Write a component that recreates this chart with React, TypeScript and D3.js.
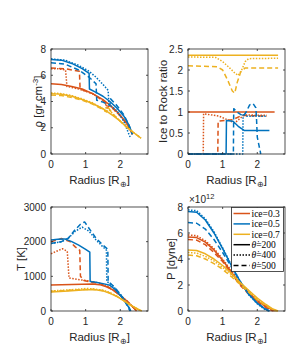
import React from "react";
import * as d3 from "d3";

type Pt = [number, number];

const radiusDomain: [number, number] = [0, 2.8];
const radiusTicks = [0, 1, 2];
const rhoTicks = [0, 2, 4, 6, 8];
const ratioTicks = [0, 0.5, 1, 1.5, 2, 2.5];
const tempTicks = [0, 1000, 2000, 3000];
const presTicks = [0, 2, 4, 6, 8];

const iceLabels = ["ice=0.3", "ice=0.5", "ice=0.7"];
const thetaLabels = ["200", "400", "500"];
const iceColors = ["#D95319", "#0072BD", "#EDB120"];
const dashStyles = ["none", "1.5 1.5", "5 3"];

// density [gr cm^-3]
const rho_o_200: Pt[] = [[0, 5.35], [0.3, 5.3], [0.6, 5.15], [0.9, 4.95], [1.2, 4.6], [1.5, 4.15], [1.8, 3.5], [2.0, 2.95], [2.2, 2.3], [2.35, 1.5]];
const rho_o_400: Pt[] = [[0, 6.5], [0.2, 6.5], [0.42, 6.4], [0.46, 5.15], [0.8, 4.95], [1.2, 4.6], [1.55, 4.0], [1.6, 3.6], [1.66, 3.8], [2.0, 2.9], [2.2, 2.25], [2.35, 1.6]];
const rho_o_500: Pt[] = [[0, 6.55], [0.4, 6.5], [0.82, 6.3], [0.84, 4.95], [1.2, 4.6], [1.58, 3.9], [1.62, 3.5], [1.7, 3.7], [2.0, 2.9], [2.2, 2.25], [2.35, 1.5]];
const rho_b_200: Pt[] = [[0, 7.2], [0.3, 7.15], [0.6, 6.9], [0.9, 6.5], [1.1, 6.15], [1.11, 4.95], [1.3, 4.7], [1.5, 4.4], [1.7, 4.0], [1.9, 3.5], [2.1, 2.9], [2.25, 2.2], [2.35, 1.5]];
const rho_b_400: Pt[] = [[0, 7.25], [0.4, 7.15], [0.8, 6.75], [1.1, 6.3], [1.3, 5.85], [1.5, 5.3], [1.65, 4.85], [1.67, 3.8], [1.9, 3.3], [2.1, 2.5], [2.25, 1.5], [2.3, 1.2]];
const rho_b_500: Pt[] = [[0, 6.95], [0.4, 6.85], [0.8, 6.4], [1.1, 5.85], [1.3, 5.35], [1.32, 4.1], [1.5, 3.95], [1.7, 3.7], [1.72, 4.2], [1.9, 3.7], [2.1, 3.0], [2.25, 2.2], [2.35, 1.5]];
const rho_y_200: Pt[] = [[0, 4.6], [0.3, 4.55], [0.6, 4.4], [0.9, 4.15], [1.2, 3.85], [1.5, 3.45], [1.8, 2.9], [2.0, 2.5], [2.2, 2.0], [2.4, 1.6], [2.6, 1.2]];
const rho_y_400: Pt[] = [[0, 4.65], [0.3, 4.6], [0.6, 4.45], [0.9, 4.2], [1.2, 3.9], [1.5, 3.45], [1.55, 3.3], [1.6, 3.6], [1.8, 3.0], [2.0, 2.5], [2.2, 2.05], [2.4, 1.6], [2.6, 1.2]];
const rho_y_500: Pt[] = [[0, 4.5], [0.3, 4.45], [0.6, 4.3], [0.9, 4.1], [1.2, 3.8], [1.5, 3.4], [1.6, 3.2], [1.65, 3.55], [1.8, 3.0], [2.0, 2.5], [2.2, 2.0], [2.4, 1.6], [2.55, 1.3]];

// ice to rock ratio
const ratio_o_200: Pt[] = [[0, 1.0], [2.5, 1.0]];
const ratio_o_400: Pt[] = [[0, 0], [0.44, 0], [0.45, 0.96], [0.9, 0.9], [1.35, 0.74], [1.62, 0.93], [2.28, 0.92]];
const ratio_o_500: Pt[] = [[0, 0], [0.86, 0], [0.87, 0.78], [1.3, 0.82], [1.55, 0.92], [2.28, 0.9]];
const ratio_b_200: Pt[] = [[0, 0], [1.1, 0], [1.11, 0.8], [1.3, 0.78], [1.45, 0.66], [1.62, 0.56], [2.35, 0.56]];
const ratio_b_400: Pt[] = [[0, 0], [1.58, 0], [1.59, 0.96], [1.7, 0.9], [2.28, 0.9]];
const ratio_b_500: Pt[] = [[0, 0], [1.31, 0], [1.32, 1.08], [1.45, 0.98], [1.6, 0.9], [1.68, 1.0], [1.78, 1.17], [1.88, 1.2], [1.96, 1.1], [1.98, 0.8], [2.0, 0.4], [2.1, 0]];
const ratio_y_200: Pt[] = [[0, 2.35], [2.6, 2.35]];
const ratio_y_400: Pt[] = [[0, 2.31], [0.8, 2.3], [1.0, 2.2], [1.2, 2.05], [1.35, 1.93], [1.45, 1.87], [1.55, 2.0], [1.65, 2.2], [1.75, 2.27], [2.6, 2.28]];
const ratio_y_500: Pt[] = [[0, 2.1], [0.85, 2.08], [1.0, 2.0], [1.15, 1.75], [1.28, 1.5], [1.35, 1.45], [1.42, 1.7], [1.52, 1.95], [1.65, 2.05], [2.6, 2.05]];

// temperature [K]
const temp_o_200: Pt[] = [[0, 750], [0.3, 755], [0.6, 765], [0.9, 775], [1.2, 780], [1.4, 760], [1.6, 700], [1.8, 600], [2.0, 450], [2.2, 280], [2.35, 130], [2.47, 0]];
const temp_o_400: Pt[] = [[0, 1650], [0.15, 1720], [0.33, 1795], [0.47, 1720], [0.52, 950], [0.84, 900], [1.0, 880], [1.2, 850], [1.4, 800], [1.6, 720], [1.8, 600], [2.0, 450], [2.2, 280], [2.35, 130], [2.47, 0]];
const temp_o_500: Pt[] = [[0, 2000], [0.3, 2090], [0.55, 2000], [0.7, 1850], [0.83, 1750], [0.85, 1000], [0.95, 880], [1.2, 820], [1.4, 790], [1.6, 720], [1.8, 600], [2.0, 450], [2.2, 280], [2.4, 80], [2.47, 0]];
const temp_b_200: Pt[] = [[0, 2050], [0.2, 2070], [0.4, 2080], [0.6, 2000], [0.8, 1900], [1.0, 1780], [1.12, 1700], [1.13, 850], [1.3, 830], [1.5, 790], [1.7, 740], [1.85, 620], [2.0, 450], [2.15, 250], [2.28, 50], [2.3, 0]];
const temp_b_400: Pt[] = [[0, 1950], [0.3, 2000], [0.5, 2100], [0.7, 2300], [0.9, 2420], [1.1, 2300], [1.3, 2050], [1.5, 1850], [1.6, 1750], [1.61, 850], [1.75, 760], [1.9, 600], [2.05, 420], [2.2, 200], [2.3, 0]];
const temp_b_500: Pt[] = [[0, 1950], [0.3, 2000], [0.5, 2100], [0.7, 2350], [0.85, 2500], [0.97, 2570], [1.1, 2380], [1.3, 2100], [1.5, 1900], [1.64, 1780], [1.65, 850], [1.8, 720], [1.95, 550], [2.1, 350], [2.2, 150], [2.28, 0]];
const temp_y_200: Pt[] = [[0, 550], [0.5, 580], [1.0, 610], [1.3, 610], [1.5, 580], [1.7, 510], [1.9, 420], [2.1, 300], [2.3, 170], [2.5, 60], [2.62, 0]];
const temp_y_400: Pt[] = [[0, 580], [0.4, 600], [0.8, 630], [1.0, 650], [1.2, 640], [1.5, 600], [1.7, 530], [1.9, 430], [2.1, 300], [2.3, 170], [2.5, 60], [2.6, 0]];
const temp_y_500: Pt[] = [[0, 565], [0.4, 590], [0.8, 615], [1.2, 625], [1.5, 590], [1.7, 520], [1.9, 420], [2.1, 300], [2.3, 160], [2.5, 50], [2.58, 0]];

// pressure [1e12 dyne]
const pres_o_200: Pt[] = [[0, 5.7], [0.25, 5.65], [0.5, 5.3], [0.75, 4.7], [1.0, 3.9], [1.25, 3.0], [1.5, 2.1], [1.75, 1.4], [2.0, 0.8], [2.25, 0.35], [2.45, 0.05], [2.5, 0]];
const pres_o_400: Pt[] = [[0, 5.85], [0.25, 5.8], [0.5, 5.4], [0.75, 4.8], [1.0, 4.0], [1.25, 3.1], [1.5, 2.2], [1.75, 1.4], [2.0, 0.8], [2.25, 0.3], [2.45, 0]];
const pres_o_500: Pt[] = [[0, 5.5], [0.25, 5.45], [0.5, 5.1], [0.75, 4.5], [1.0, 3.8], [1.25, 2.9], [1.5, 2.0], [1.75, 1.3], [2.0, 0.7], [2.25, 0.25], [2.45, 0]];
const pres_b_200: Pt[] = [[0, 7.65], [0.25, 7.6], [0.5, 7.0], [0.75, 6.0], [1.0, 4.8], [1.25, 3.5], [1.5, 2.3], [1.75, 1.3], [2.0, 0.6], [2.2, 0.2], [2.35, 0]];
const pres_b_400: Pt[] = [[0, 7.78], [0.25, 7.72], [0.5, 7.1], [0.75, 6.1], [1.0, 4.85], [1.25, 3.55], [1.5, 2.3], [1.75, 1.25], [2.0, 0.55], [2.2, 0.15], [2.33, 0]];
const pres_b_500: Pt[] = [[0, 6.8], [0.25, 6.75], [0.5, 6.3], [0.75, 5.5], [1.0, 4.5], [1.25, 3.4], [1.5, 2.3], [1.75, 1.3], [2.0, 0.6], [2.2, 0.2], [2.35, 0]];
const pres_y_200: Pt[] = [[0, 4.7], [0.25, 4.65], [0.5, 4.4], [0.75, 4.0], [1.0, 3.5], [1.25, 2.9], [1.5, 2.2], [1.75, 1.6], [2.0, 1.0], [2.25, 0.5], [2.45, 0.15], [2.6, 0]];
const pres_y_400: Pt[] = [[0, 4.5], [0.25, 4.45], [0.5, 4.2], [0.75, 3.85], [1.0, 3.35], [1.25, 2.8], [1.5, 2.15], [1.75, 1.55], [2.0, 0.95], [2.25, 0.45], [2.45, 0.12], [2.58, 0]];
const pres_y_500: Pt[] = [[0, 4.3], [0.25, 4.25], [0.5, 4.0], [0.75, 3.65], [1.0, 3.2], [1.25, 2.65], [1.5, 2.05], [1.75, 1.45], [2.0, 0.85], [2.25, 0.4], [2.45, 0.1], [2.55, 0]];

const rhoSeries = [[rho_o_200, rho_o_400, rho_o_500], [rho_b_200, rho_b_400, rho_b_500], [rho_y_200, rho_y_400, rho_y_500]];
const ratioSeries = [[ratio_o_200, ratio_o_400, ratio_o_500], [ratio_b_200, ratio_b_400, ratio_b_500], [ratio_y_200, ratio_y_400, ratio_y_500]];
const tempSeries = [[temp_o_200, temp_o_400, temp_o_500], [temp_b_200, temp_b_400, temp_b_500], [temp_y_200, temp_y_400, temp_y_500]];
const presSeries = [[pres_o_200, pres_o_400, pres_o_500], [pres_b_200, pres_b_400, pres_b_500], [pres_y_200, pres_y_400, pres_y_500]];

const AX = "#262626";
const SANS = "'Liberation Sans', Arial, sans-serif";
const SERIF = "'Liberation Serif', 'Times New Roman', serif";

interface AxesProps {
  left: number;
  top: number;
  width: number;
  height: number;
  yTicks: number[];
  series: Pt[][][];
  yLabel: React.ReactNode;
  yLabelX: number;
  children?: React.ReactNode;
}

const Axes: React.FC<AxesProps> = ({ left, top, width, height, yTicks, series, yLabel, yLabelX, children }) => {
  const x = d3.scaleLinear().domain(radiusDomain).range([left, left + width]);
  const y = d3
    .scaleLinear()
    .domain([0, yTicks[yTicks.length - 1]])
    .range([top + height, top]);
  const line = d3
    .line<Pt>()
    .x((d) => x(d[0]))
    .y((d) => y(d[1]));
  const bottom = top + height;
  const right = left + width;
  const tl = 2;
  const fmt = d3.format("~g");

  return (
    <g>
      <rect x={left} y={top} width={width} height={height} fill="white" />
      {series.map((grp, i) =>
        grp.map((pts, j) => (
          <path
            key={`${i}-${j}`}
            d={line(pts) || ""}
            fill="none"
            stroke={iceColors[i]}
            strokeWidth={1.5}
            strokeDasharray={dashStyles[j]}
            strokeLinejoin="round"
          />
        ))
      )}
      <rect x={left} y={top} width={width} height={height} fill="none" stroke={AX} strokeWidth={0.8} />
      {radiusTicks.map((t) => (
        <g key={"x" + t}>
          <line x1={x(t)} x2={x(t)} y1={bottom} y2={bottom - tl} stroke={AX} strokeWidth={0.8} />
          <line x1={x(t)} x2={x(t)} y1={top} y2={top + tl} stroke={AX} strokeWidth={0.8} />
          <text x={x(t)} y={bottom + 14} textAnchor="middle" fontSize={10} fill={AX} fontFamily={SANS}>
            {t}
          </text>
        </g>
      ))}
      {yTicks.map((t) => (
        <g key={"y" + t}>
          <line x1={left} x2={left + tl} y1={y(t)} y2={y(t)} stroke={AX} strokeWidth={0.8} />
          <line x1={right} x2={right - tl} y1={y(t)} y2={y(t)} stroke={AX} strokeWidth={0.8} />
          <text x={left - 5} y={y(t)} dy="0.35em" textAnchor="end" fontSize={10} fill={AX} fontFamily={SANS}>
            {fmt(t)}
          </text>
        </g>
      ))}
      <text x={(left + right) / 2} y={bottom + 30} textAnchor="middle" fontSize={11.5} fill={AX} fontFamily={SANS}>
        Radius [R
        <tspan fontSize={8} dy={3}>
          ⊕
        </tspan>
        <tspan dy={-3}>]</tspan>
      </text>
      <text
        transform={`translate(${yLabelX},${(top + bottom) / 2}) rotate(-90)`}
        dy="0.35em"
        textAnchor="middle"
        fontSize={11.5}
        fill={AX}
        fontFamily={SANS}
      >
        {yLabel}
      </text>
      {children}
    </g>
  );
};

const Legend: React.FC<{ x0: number; y0: number }> = ({ x0, y0 }) => {
  const rowH = 10.4;
  const items = [
    ...iceLabels.map((l, i) => ({ label: <tspan>{l}</tspan>, color: iceColors[i], dash: "none" })),
    ...thetaLabels.map((l, j) => ({
      label: (
        <>
          <tspan fontStyle="italic">θ̇</tspan>
          <tspan>={l}</tspan>
        </>
      ),
      color: "#000",
      dash: dashStyles[j],
    })),
  ];
  return (
    <g>
      <rect x={x0} y={y0} width={52} height={64} fill="white" stroke={AX} strokeWidth={0.8} />
      {items.map((it, k) => {
        const cy = y0 + 6 + k * rowH;
        return (
          <g key={k}>
            <line x1={x0 + 2} x2={x0 + 18.5} y1={cy} y2={cy} stroke={it.color} strokeWidth={1.5} strokeDasharray={it.dash} />
            <text x={x0 + 20} y={cy} dy="0.35em" fontSize={9.5} fontFamily={SERIF} fill="#000">
              {it.label}
            </text>
          </g>
        );
      })}
    </g>
  );
};

export default function App() {
  const W = 299;
  const H = 357;
  const pw = 97;
  const ph = 105;
  return (
    <div style={{ position: "absolute", left: 0, top: 0 }}>
      <svg width={W} height={H} style={{ display: "block", background: "white" }}>
        <Axes
          left={51}
          top={49}
          width={pw}
          height={ph}
          yTicks={rhoTicks}
          series={rhoSeries}
          yLabelX={37.5}
          yLabel={
            <>
              ρ [gr cm
              <tspan fontSize={8} dy={-4}>
                -3
              </tspan>
              <tspan dy={4}>]</tspan>
            </>
          }
        />
        <Axes
          left={188}
          top={49}
          width={pw}
          height={ph}
          yTicks={ratioTicks}
          series={ratioSeries}
          yLabelX={162.5}
          yLabel="Ice to Rock ratio"
        />
        <Axes
          left={51}
          top={207}
          width={pw}
          height={104}
          yTicks={tempTicks}
          series={tempSeries}
          yLabelX={21}
          yLabel="T [K]"
        />
        <Axes
          left={188}
          top={207}
          width={pw}
          height={104}
          yTicks={presTicks}
          series={presSeries}
          yLabelX={170.5}
          yLabel="P [dyne]"
        >
          <text x={189} y={202.5} fontSize={10} fill={AX} fontFamily={SANS}>
            ×10
            <tspan fontSize={7.5} dy={-4}>
              12
            </tspan>
          </text>
          <Legend x0={231.5} y0={207.5} />
        </Axes>
      </svg>
    </div>
  );
}
